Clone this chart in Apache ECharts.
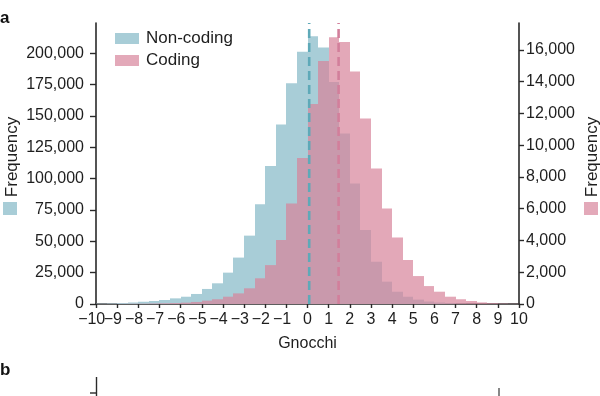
<!DOCTYPE html>
<html>
<head>
<meta charset="utf-8">
<script src="https://cdn.jsdelivr.net/npm/echarts@6/dist/echarts.min.js"></script>
<style>
html,body{margin:0;padding:0;background:#fff;}
#c{width:600px;height:396px;}
</style>
</head>
<body>
<div id="c"></div>
<script>
// Bin lower edges (Gnocchi), bin width 0.5
const binLow = [-10,-9.5,-9,-8.5,-8,-7.5,-7,-6.5,-6,-5.5,-5,-4.5,-4,-3.5,-3,-2.5,-2,-1.5,-1,-0.5,
                0,0.5,1,1.5,2,2.5,3,3.5,4,4.5,5,5.5,6,6.5,7,7.5,8,8.5,9,9.5];
const binHigh = [-9.5,-9,-8.5,-8,-7.5,-7,-6.5,-6,-5.5,-5,-4.5,-4,-3.5,-3,-2.5,-2,-1.5,-1,-0.5,0,
                 0.5,1,1.5,2,2.5,3,3.5,4,4.5,5,5.5,6,6.5,7,7.5,8,8.5,9,9.5,10];
// Non-coding frequencies (left axis)
const nonCoding = [300,500,800,1200,1800,2400,3200,4500,5800,8000,
                   12000,16500,25000,37000,54500,79500,110000,143000,176000,201000,
                   213500,204500,177000,136000,96000,59000,33700,17800,9800,5800,
                   3500,2000,1200,700,400,250,150,80,40,20];
// Coding frequencies (right axis)
const coding = [5,8,10,15,20,30,45,60,85,130,
                210,300,460,670,990,1620,2450,4030,6330,9200,
                12600,15300,16800,16500,14650,11680,8530,6020,4190,2770,
                1760,1130,775,460,300,190,100,50,25,10];
// Dashed reference lines (medians)
const nonCodingMedian = 0.08;
const codingMedian = 1.47;
// Tick values
const xTicks = [-10,-9,-8,-7,-6,-5,-4,-3,-2,-1,0,1,2,3,4,5,6,7,8,9,10];
const xLabelsMain = [-9,-8,-7,-6,-5,-4,-3,-2,-1,0,1,2,3,4,5,6,7,8,9,10];
const xLabelsFirst = [-10];
const leftTicks = [0,25000,50000,75000,100000,125000,150000,175000,200000];
const rightTicks = [0,2000,4000,6000,8000,10000,12000,14000,16000];
const leftMax = 224000;
const rightMax = 17700;

const FONT = '"Liberation Sans", Arial, Helvetica, sans-serif';
const TXT = '#1e1e1e';
const AX = '#2a2a2a';

function fmtNum(v){ return Number(v).toLocaleString('en-US'); }
// negative labels: minus sign hangs to the left of the centred digits
function fmtX(v){ return v < 0 ? '{m|\u2212}{d|' + Math.abs(v) + '}' : '{d|' + v + '}'; }
const xRich = {
  m:{fontFamily:FONT, fontSize:16, color:TXT, padding:[0,0,0,-8.6]},
  d:{fontFamily:FONT, fontSize:16, color:TXT}
};

function histData(vals){
  return vals.map((v,i)=>[binLow[i], binHigh[i], v]);
}
function renderBar(params, api){
  const x0 = api.value(0), x1 = api.value(1), v = api.value(2);
  const p0 = api.coord([x0, 0]);
  const p1 = api.coord([x1, v]);
  const xa = Math.round(p0[0]), xb = Math.round(p1[0]);
  return {
    type:'rect',
    shape:{x:xa, y:p1[1], width:xb-xa, height:p0[1]-p1[1]},
    style: api.style()
  };
}

const chart = echarts.init(document.getElementById('c'), null, {renderer:'canvas'});
const option = {
  animation:false,
  backgroundColor:'#fff',
  textStyle:{fontFamily:FONT},
  grid:{left:96, right:81, top:23, bottom:92, containLabel:false},
  legend:{
    orient:'vertical', left:110, top:25, itemWidth:24, itemHeight:11, itemGap:5,
    icon:'rect',
    textStyle:{fontFamily:FONT, fontSize:17, color:TXT, padding:[0,0,0,2]},
    data:[
      {name:'Non-coding', itemStyle:{color:'#a8cdd7', opacity:1}},
      {name:'Coding', itemStyle:{color:'#e3a9b9', opacity:1}}
    ],
    selectedMode:false
  },
  xAxis:[
    {
      type:'value', min:-10, max:10, interval:1, position:'bottom', offset:0,
      name:'Gnocchi', nameLocation:'middle', nameGap:32,
      nameTextStyle:{fontFamily:FONT, fontSize:16, color:TXT},
      axisLine:{show:true, onZero:false, lineStyle:{color:AX, width:1.6}},
      axisTick:{show:true, length:4, lineStyle:{color:AX, width:1.4}, customValues:xTicks},
      axisLabel:{fontFamily:FONT, fontSize:16, color:TXT, margin:8, formatter:fmtX,
                 customValues:xLabelsMain, showMinLabel:true, showMaxLabel:true, rich:xRich},
      splitLine:{show:false}
    },
    {
      type:'value', min:-10, max:10, interval:1, position:'bottom', offset:0,
      axisLine:{show:false, onZero:false},
      axisTick:{show:false},
      axisLabel:{fontFamily:FONT, fontSize:16, color:TXT, margin:8, formatter:fmtX,
                 customValues:xLabelsFirst, showMinLabel:true, rich:xRich},
      splitLine:{show:false}
    }
  ],
  yAxis:[
    {
      type:'value', min:0, max:leftMax, position:'left', offset:0,
      axisLine:{show:true, onZero:false, lineStyle:{color:AX, width:1.6}},
      axisTick:{show:true, length:6, lineStyle:{color:AX, width:1.4}, customValues:leftTicks},
      axisLabel:{fontFamily:FONT, fontSize:16, color:TXT, margin:12, formatter:fmtNum,
                 customValues:leftTicks, showMinLabel:true},
      splitLine:{show:false}
    },
    {
      type:'value', min:0, max:rightMax, position:'right', offset:0,
      axisLine:{show:true, onZero:false, lineStyle:{color:AX, width:1.6}},
      axisTick:{show:true, length:5, lineStyle:{color:AX, width:1.4}, customValues:rightTicks},
      axisLabel:{fontFamily:FONT, fontSize:16, color:TXT, margin:7, formatter:fmtNum,
                 customValues:rightTicks, showMinLabel:true},
      splitLine:{show:false}
    }
  ],
  series:[
    {
      name:'Non-coding', type:'custom', xAxisIndex:0, yAxisIndex:0,
      renderItem:renderBar, data:histData(nonCoding),
      encode:{x:[0,1], y:2},
      itemStyle:{color:'#a8cdd7'}, z:2, clip:true, silent:true
    },
    {
      name:'Coding', type:'custom', xAxisIndex:0, yAxisIndex:1,
      renderItem:renderBar, data:histData(coding),
      encode:{x:[0,1], y:2},
      itemStyle:{color:'rgb(215,131,154)', opacity:0.7}, z:3, clip:true, silent:true
    },
    {
      name:'ncMedian', type:'line', xAxisIndex:0, yAxisIndex:0, z:5, silent:true,
      data:[[nonCodingMedian,0],[nonCodingMedian,leftMax]],
      symbol:'none', lineStyle:{color:'#5ea9b8', width:2.6, type:[9,5]}
    },
    {
      name:'cMedian', type:'line', xAxisIndex:0, yAxisIndex:0, z:5, silent:true,
      data:[[codingMedian,0],[codingMedian,leftMax]],
      symbol:'none', lineStyle:{color:'#d27f9b', width:2.6, type:[9,5]}
    }
  ],
  graphic:[
    {type:'text', x:0, y:10, style:{text:'a', font:'bold 17px '+FONT, fill:'#111', textBaseline:'alphabetic'}},
    {type:'text', x:0, y:362, style:{text:'b', font:'bold 17px '+FONT, fill:'#111', textBaseline:'alphabetic'}},
    {type:'text', x:12, y:157, rotation:Math.PI/2,
     style:{text:'Frequency', font:'17px '+FONT, fill:TXT, textAlign:'center', textVerticalAlign:'middle'}},
    {type:'rect', shape:{x:3, y:202, width:14, height:13}, style:{fill:'#a8cdd7'}},
    {type:'text', x:592, y:157, rotation:Math.PI/2,
     style:{text:'Frequency', font:'17px '+FONT, fill:TXT, textAlign:'center', textVerticalAlign:'middle'}},
    {type:'rect', shape:{x:584, y:202, width:14, height:13}, style:{fill:'#e3a9b9'}},
    {type:'text', x:87, y:400, style:{text:'0.100', font:'16px '+FONT, fill:TXT, textAlign:'right', textBaseline:'alphabetic'}},
    {type:'line', shape:{x1:96.5, y1:377, x2:96.5, y2:396}, style:{stroke:AX, lineWidth:1.4}},
    {type:'line', shape:{x1:90, y1:393, x2:96, y2:393}, style:{stroke:AX, lineWidth:1.4}},
    {type:'line', shape:{x1:499, y1:388, x2:499, y2:396}, style:{stroke:'#555', lineWidth:1.4}}
  ]
};
chart.setOption(option);
</script>
</body>
</html>
